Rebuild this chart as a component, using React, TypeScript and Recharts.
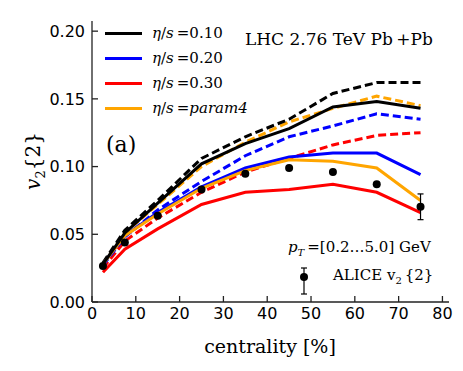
import React from "react";
import { ComposedChart, Line, Scatter, ErrorBar, XAxis, YAxis } from "recharts";

const centrality = [2.5, 7.5, 15, 25, 35, 45, 55, 65, 75];

// solid: legend series
const eta010 = [0.028, 0.051, 0.073, 0.102, 0.117, 0.128, 0.144, 0.148, 0.143];
const eta020 = [0.028, 0.049, 0.066, 0.085, 0.099, 0.107, 0.110, 0.110, 0.094];
const eta030 = [0.022, 0.039, 0.054, 0.072, 0.081, 0.083, 0.087, 0.081, 0.066];
const etaParam4 = [0.028, 0.049, 0.065, 0.084, 0.097, 0.105, 0.104, 0.099, 0.075];

// dashed companions
const eta010Dash = [0.029, 0.053, 0.075, 0.106, 0.122, 0.135, 0.154, 0.162, 0.162];
const eta020Dash = [0.027, 0.048, 0.068, 0.089, 0.108, 0.122, 0.130, 0.139, 0.135];
const eta030Dash = [0.025, 0.045, 0.062, 0.081, 0.096, 0.106, 0.116, 0.123, 0.125];
const etaParam4Dash = [0.028, 0.051, 0.072, 0.100, 0.118, 0.133, 0.143, 0.152, 0.145];

const alice = [0.0266, 0.044, 0.0636, 0.083, 0.0947, 0.099, 0.096, 0.087, 0.0703];
const aliceErr = [0.0005, 0.0005, 0.0005, 0.0005, 0.0005, 0.0005, 0.0005, 0.0005, 0.0095];

const xTicks = [0, 10, 20, 30, 40, 50, 60, 70, 80];
const yTicks = [0, 0.05, 0.1, 0.15, 0.2];

const legendItems = [
  { value: "0.10", color: "#000000", italic: false },
  { value: "0.20", color: "#0000ff", italic: false },
  { value: "0.30", color: "#ff0000", italic: false },
  { value: "param4", color: "#ffa500", italic: true },
];

const data = centrality.map((c, i) => ({
  c,
  s010: eta010[i],
  s020: eta020[i],
  s030: eta030[i],
  sp4: etaParam4[i],
  d010: eta010Dash[i],
  d020: eta020Dash[i],
  d030: eta030Dash[i],
  dp4: etaParam4Dash[i],
  alice: alice[i],
  err: aliceErr[i],
}));

const SERIF = "'DejaVu Serif', serif";
const SANS = "'DejaVu Sans', sans-serif";
const FRAME = "#222";
const tickFont = { fontSize: 16, fill: "#000", fontFamily: SANS };

const solid = (key: string, color: string) => (
  <Line key={key} type="linear" dataKey={key} stroke={color} strokeWidth={3} dot={false} isAnimationActive={false} />
);
const dashed = (key: string, color: string) => (
  <Line
    key={key}
    type="linear"
    dataKey={key}
    stroke={color}
    strokeWidth={3}
    strokeDasharray="8 4"
    dot={false}
    isAnimationActive={false}
  />
);

export default function App() {
  return (
    <div style={{ position: "absolute", left: 0, top: 0, width: 463, height: 371, background: "#fff" }}>
      <ComposedChart width={463} height={371} data={data} margin={{ top: 21, right: 14, left: 0, bottom: 0 }}>
        <XAxis
          dataKey="c"
          type="number"
          domain={[0, 81.5]}
          ticks={xTicks}
          height={69}
          tickSize={-6}
          tickMargin={12}
          tick={tickFont}
          stroke={FRAME}
          axisLine={{ stroke: FRAME, strokeWidth: 1.3 }}
          tickLine={{ stroke: FRAME, strokeWidth: 1.3 }}
          allowDataOverflow
        />
        <XAxis
          xAxisId="top"
          orientation="top"
          dataKey="c"
          type="number"
          domain={[0, 81.5]}
          ticks={xTicks}
          height={0}
          tickSize={-6}
          tickFormatter={() => ""}
          axisLine={{ stroke: FRAME, strokeWidth: 1.3 }}
          tickLine={{ stroke: FRAME, strokeWidth: 1.3 }}
        />
        <YAxis
          type="number"
          domain={[0, 0.2075]}
          ticks={yTicks}
          width={92}
          tickSize={-6}
          tickMargin={13}
          tick={tickFont}
          tickFormatter={(v: number) => v.toFixed(2)}
          axisLine={{ stroke: FRAME, strokeWidth: 1.3 }}
          tickLine={{ stroke: FRAME, strokeWidth: 1.3 }}
          allowDataOverflow
        />
        <YAxis
          yAxisId="right"
          orientation="right"
          type="number"
          domain={[0, 0.2075]}
          ticks={yTicks}
          width={0}
          tickSize={-6}
          tickFormatter={() => ""}
          axisLine={{ stroke: FRAME, strokeWidth: 1.3 }}
          tickLine={{ stroke: FRAME, strokeWidth: 1.3 }}
        />
        {dashed("d030", "#ff0000")}
        {dashed("d020", "#0000ff")}
        {dashed("dp4", "#ffa500")}
        {dashed("d010", "#000000")}
        {solid("s030", "#ff0000")}
        {solid("s020", "#0000ff")}
        {solid("sp4", "#ffa500")}
        {solid("s010", "#000000")}
        <Scatter
          dataKey="alice"
          fill="#000"
          isAnimationActive={false}
          shape={(p: any) => <circle cx={p.cx} cy={p.cy} r={4} fill="#000" />}
        >
          <ErrorBar dataKey="err" direction="y" width={3} stroke="#000" strokeWidth={1.2} />
        </Scatter>
      </ComposedChart>

      {/* legend */}
      {legendItems.map((it, i) => (
        <div
          key={it.value}
          style={{ position: "absolute", left: 105, top: 33 + i * 25 - 10, height: 20, display: "flex", alignItems: "center" }}
        >
          <div style={{ width: 37, height: 3, background: it.color }} />
          <span style={{ marginLeft: 10, fontFamily: SERIF, fontSize: 15, whiteSpace: "nowrap" }}>
            <i>η</i>/<i>s</i>{"\u2009"}=
            {it.italic ? <i>{it.value}</i> : it.value}
          </span>
        </div>
      ))}

      <div style={{ position: "absolute", left: 245, top: 29, fontFamily: SERIF, fontSize: 17, whiteSpace: "nowrap" }}>
        LHC 2.76 TeV Pb{"\u2009"}+Pb
      </div>
      <div style={{ position: "absolute", left: 106, top: 132, fontFamily: SERIF, fontSize: 22 }}>(a)</div>

      <div style={{ position: "absolute", left: 288, top: 238, fontFamily: SERIF, fontSize: 15, whiteSpace: "nowrap" }}>
        <i>p</i>
        <sub style={{ fontSize: 10 }}>
          <i>T</i>
        </sub>
        {"\u2009"}=[0.2…5.0] GeV
      </div>

      {/* data legend marker */}
      <svg style={{ position: "absolute", left: 296, top: 266 }} width={16} height={30}>
        <line x1={8} y1={2} x2={8} y2={28} stroke="#000" strokeWidth={1.2} />
        <line x1={5} y1={2} x2={11} y2={2} stroke="#000" strokeWidth={1.2} />
        <line x1={5} y1={28} x2={11} y2={28} stroke="#000" strokeWidth={1.2} />
        <circle cx={8} cy={11} r={4} fill="#000" />
      </svg>
      <div style={{ position: "absolute", left: 333, top: 266, fontFamily: SERIF, fontSize: 15, whiteSpace: "nowrap" }}>
        ALICE v<sub style={{ fontSize: 10 }}>2</sub>{"\u2009"}{"{2}"}
      </div>

      <div
        style={{
          position: "absolute",
          left: 34,
          top: 161,
          transform: "translate(-50%, -50%) rotate(-90deg)",
          fontFamily: SERIF,
          fontSize: 20,
          whiteSpace: "nowrap",
        }}
      >
        <i>v</i>
        <sub style={{ fontSize: 13 }}>2</sub>
        {"{2}"}
      </div>

      <div
        style={{
          position: "absolute",
          left: 270,
          top: 346,
          transform: "translate(-50%, -50%)",
          fontFamily: SERIF,
          fontSize: 19,
          whiteSpace: "nowrap",
        }}
      >
        centrality [%]
      </div>
    </div>
  );
}
